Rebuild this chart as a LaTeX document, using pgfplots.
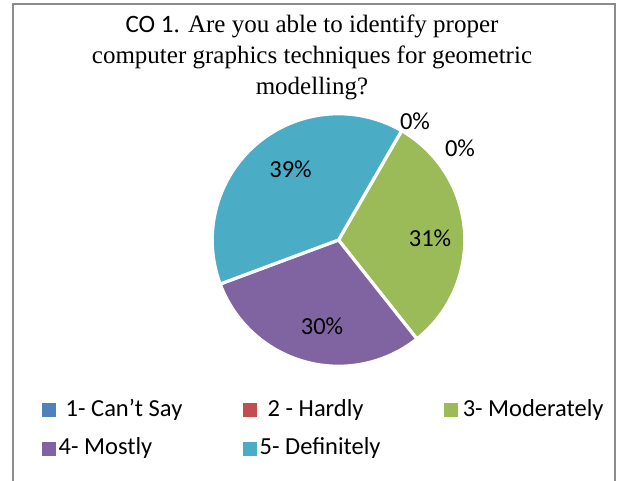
\documentclass[border=0pt]{standalone}
\usepackage{fontspec}
\setmainfont{Carlito}
\newfontfamily\serifttl{Liberation Serif}
\usepackage{pgfplots}
\pgfplotsset{compat=1.18}

\definecolor{c1}{HTML}{4F81BD}
\definecolor{c2}{HTML}{C0504D}
\definecolor{c3}{HTML}{9BBB59}
\definecolor{c4}{HTML}{8064A2}
\definecolor{c5}{HTML}{4BACC6}
\definecolor{frame}{HTML}{8C8C8C}

% shares in percent, legend order
\def\valA{0}
\def\valB{0}
\def\valC{31}
\def\valD{30}
\def\valE{39}

% one slice, clockwise from the current angle
\def\curang{60}
\newcommand\pieslice[2]{%
  \pgfmathsetmacro\newang{\curang-3.6*#1}%
  \edef\tmp{\noexpand\addplot[forget plot, fill=#2, draw=white, line width=3.2pt,
    domain=\newang:\curang, samples=90, variable=\noexpand\t]
    ({1.01*cos(\noexpand\t)},{1.01*sin(\noexpand\t)}) -- (axis cs:0,0) -- cycle;}%
  \tmp
  \global\let\curang\newang}

\newcommand\legtext[1]{\makebox[187pt][l]{\hspace{3pt}#1}}

\begin{document}
\fontsize{24.5}{29.4}\selectfont
\begin{tikzpicture}
\useasboundingbox (0pt,0pt) rectangle (620pt,480pt);
\draw[frame, line width=1.5pt] (13pt,-5pt) -- (13pt,476pt) -- (615pt,476pt) -- (615pt,-5pt);

\begin{scope}[font=\fontsize{25}{30}\selectfont]
\node[anchor=base] at (312pt,447.7pt) {CO 1{\serifttl. Are you able to identify proper}};
\node[anchor=base] at (312pt,416.7pt) {\serifttl computer graphics techniques for geometric};
\node[anchor=base] at (312pt,385.5pt) {\serifttl modelling?};
\end{scope}

\begin{axis}[
  at={(338.5pt,240pt)}, anchor=center,
  scale only axis, width=250pt, height=250pt,
  xmin=-1, xmax=1, ymin=-1, ymax=1,
  hide axis, clip=false,
  legend columns=3,
  legend image code/.code={%
    \path[draw=none, fill=none] (0pt,-28pt) rectangle (14pt,7pt);
    \fill[#1] (0pt,-8pt) rectangle (14pt,6pt);},
  legend style={draw=none, fill=none, inner sep=0pt, outer sep=0pt,
    column sep=0pt, row sep=0pt, nodes={inner sep=0pt, outer sep=0pt},
    at={(axis cs:-2.374,-1.272)}, anchor=north west, font=\fontsize{24.5}{29.4}\selectfont},
]
\pieslice{\valC}{c3}
\pieslice{\valD}{c4}
\pieslice{\valE}{c5}

\addlegendimage{fill=c1, draw=none}
\addlegendentry{\legtext{\hspace{7pt}1- Can’t Say}}
\addlegendimage{fill=c2, draw=none}
\addlegendentry{\legtext{\hspace{8pt}2 - Hardly}}
\addlegendimage{fill=c3, draw=none}
\addlegendentry{\legtext{\hspace{2pt}3- Moderately}}
\addlegendimage{fill=c4, draw=none}
\addlegendentry{\legtext{4- Mostly}}
\addlegendimage{fill=c5, draw=none}
\addlegendentry{\legtext{5- Definitely}}

\node at (axis cs:-0.384,0.568) {39\%};
\node at (axis cs:0.732,0.012) {31\%};
\node at (axis cs:-0.132,-0.688) {30\%};
\node at (axis cs:0.612,0.952) {0\%};
\node at (axis cs:0.972,0.736) {0\%};
\end{axis}
\end{tikzpicture}
\end{document}
